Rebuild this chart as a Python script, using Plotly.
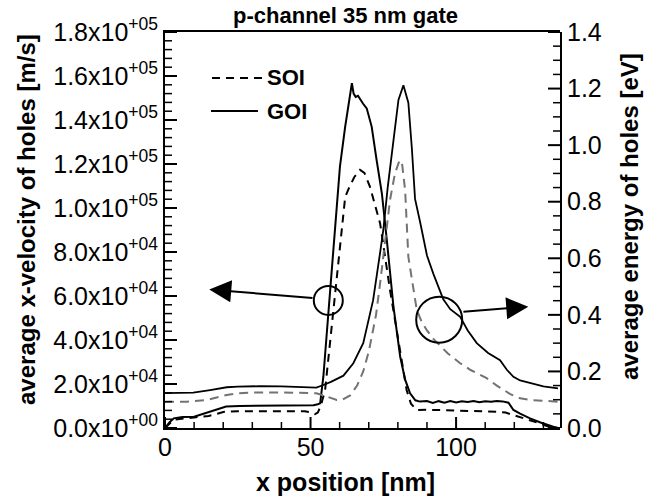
import plotly.graph_objects as go

# ---------------- data ----------------
# average x-velocity of holes [m/s], GOI (solid black)
vel_goi_x = [0, 1.5, 3, 6, 10, 15.5, 19, 21, 25.7, 35, 45, 51, 52.5, 53.3, 54.4, 56.4, 57.8,
             59, 60.1, 61.9, 63, 64.2, 64.8, 65.5, 66.3, 67, 68, 69.3, 71, 72.7, 74.5, 76.2,
             78.5, 80.8, 82.5, 84.2, 86, 87.6, 90, 92, 94, 96, 98, 100, 102, 104, 106, 108,
             110, 112, 114, 116, 118, 119.7, 122, 125.4, 129, 133.4, 135]
vel_goi = [0, 2500, 4400, 5000, 5100, 7400, 9000, 9800, 10000, 10200, 10300, 10300, 10800,
           11200, 23300, 58000, 81000, 103600, 118800, 137000, 146000, 156700, 152000, 150500,
           151000, 149500, 147500, 145300, 137000, 121800, 106700, 85500, 55000, 32400, 22000,
           15800, 12600, 12000, 12300, 11400, 12200, 11500, 12300, 11600, 12200, 11800, 12300,
           11700, 12200, 11900, 12300, 12100, 11500, 8200, 6500, 4400, 2500, 600, 0]

# average x-velocity of holes [m/s], SOI (dashed black)
vel_soi_x = [0, 1.5, 3, 10, 15, 18, 20, 25, 40, 48, 50, 51.5, 52.5, 53.5, 55, 57.3, 59.6, 61.9,
             63, 65, 67, 68.5, 70.4, 72, 73.9, 77.3, 80.2, 83, 84.5, 86.5, 90, 100, 110, 114,
             117, 119.7, 122, 125.4, 129, 131.9, 135]
vel_soi = [0, 2000, 3800, 4800, 5500, 6500, 7300, 7600, 7700, 7600, 7200, 6300, 7000, 10000,
           17300, 47600, 77900, 105000, 108500, 114000, 117300, 116000, 109700, 102000, 93000,
           62700, 40000, 17300, 11000, 8200, 8300, 8000, 7800, 7400, 7000, 5900, 5000, 3700,
           2000, 600, 0]

# average energy of holes [eV], GOI (solid black)
en_goi_x = [0, 5, 9.7, 15.5, 21.2, 25, 32.6, 40, 50, 52, 54.4, 57, 61.3, 64.7, 68.1, 71.5,
            73.9, 75, 76.5, 78.5, 80.2, 81.9, 83.6, 84.8, 85.9, 87.6, 88.8, 90, 92.2, 95.6, 98,
            101.4, 104, 107.1, 111, 115.1, 117.5, 119.7, 122, 125.4, 130, 135]
en_goi = [0.123, 0.124, 0.125, 0.134, 0.144, 0.146, 0.148, 0.147, 0.144, 0.143, 0.152, 0.163,
          0.185, 0.229, 0.30, 0.452, 0.62, 0.70, 0.85, 1.03, 1.16, 1.212, 1.15, 0.99, 0.81,
          0.73, 0.665, 0.61, 0.545, 0.455, 0.42, 0.393, 0.345, 0.30, 0.265, 0.24, 0.205, 0.181,
          0.168, 0.158, 0.147, 0.14]

# average energy of holes [eV], SOI (dashed grey)
en_soi_x = [0, 7.5, 14.3, 21.2, 25, 30, 40, 50, 52, 55.6, 59, 61, 63.6, 66, 68.1, 70, 72.5,
            74, 75.6, 77.3, 79, 80.6, 81.5, 82.5, 83.6, 85.3, 86.5, 88.2, 90, 92.2, 94.5, 97,
            101.4, 105, 110.5, 114, 118.6, 122, 125.4, 130, 135]
en_soi = [0.092, 0.093, 0.099, 0.117, 0.123, 0.125, 0.126, 0.125, 0.123, 0.111, 0.099, 0.10,
          0.115, 0.15, 0.20, 0.27, 0.40, 0.52, 0.665, 0.806, 0.90, 0.947, 0.93, 0.84, 0.605,
          0.488, 0.417, 0.375, 0.345, 0.315, 0.29, 0.265, 0.229, 0.205, 0.176, 0.15, 0.12,
          0.105, 0.099, 0.095, 0.093]

vel_ticks = [0, 20000, 40000, 60000, 80000, 100000, 120000, 140000, 160000, 180000]
vel_tick_text = ["0.0x10<sup>+00</sup>", "2.0x10<sup>+04</sup>", "4.0x10<sup>+04</sup>",
                 "6.0x10<sup>+04</sup>", "8.0x10<sup>+04</sup>", "1.0x10<sup>+05</sup>",
                 "1.2x10<sup>+05</sup>", "1.4x10<sup>+05</sup>", "1.6x10<sup>+05</sup>",
                 "1.8x10<sup>+05</sup>"]
en_ticks = [0, 0.2, 0.4, 0.6, 0.8, 1.0, 1.2, 1.4]
en_tick_text = ["0.0", "0.2", "0.4", "0.6", "0.8", "1.0", "1.2", "1.4"]
x_ticks = [0, 50, 100]

legend_names = ["SOI", "GOI"]

FONT = "Arial, 'Liberation Sans', sans-serif"
PL, PR, PT, PB = 165, 90, 32, 70
W, H = 650, 498
PW, PH = W - PL - PR, H - PT - PB
CLEAR = "rgba(0,0,0,0)"
X_RANGE = [0, 135.7]


def px_x(p):  # pixel -> paper x
    return (p - PL) / PW


def px_y(p):  # pixel -> paper y
    return (H - PB - p) / PH


fig = go.Figure()
fig.add_trace(go.Scatter(x=vel_soi_x, y=vel_soi, mode="lines", name=legend_names[0],
                         line=dict(color="black", width=2, dash="8px,6px"), showlegend=False))
fig.add_trace(go.Scatter(x=vel_goi_x, y=vel_goi, mode="lines", name=legend_names[1],
                         line=dict(color="black", width=2), showlegend=False))
fig.add_trace(go.Scatter(x=en_soi_x, y=en_soi, mode="lines", xaxis="x2", yaxis="y2",
                         showlegend=False,
                         line=dict(color="#737373", width=2, dash="9px,6px")))
fig.add_trace(go.Scatter(x=en_goi_x, y=en_goi, mode="lines", xaxis="x2", yaxis="y2",
                         showlegend=False, line=dict(color="black", width=1.8)))

# ---- inward tick marks, positioned through the axes ----
tick_line = dict(color="black", width=2)
minor_line = dict(color="black", width=1.5)
for k in range(0, 14):
    xv = 10 * k
    major = xv in x_ticks
    fig.add_shape(type="line", xref="x", yref="y domain", x0=xv, x1=xv, y0=0,
                  y1=(11 if major else 6) / PH, line=tick_line if major else minor_line)
for k in range(0, 46):
    yv = 4000 * k
    major = yv in vel_ticks
    fig.add_shape(type="line", xref="x domain", yref="y", x0=0,
                  x1=(12 if major else 7) / PW, y0=yv, y1=yv,
                  line=tick_line if major else minor_line)
for k in range(0, 29):
    ev = round(0.05 * k, 2)
    major = any(abs(ev - t) < 1e-9 for t in en_ticks)
    fig.add_shape(type="line", xref="x2 domain", yref="y2", x0=1 - (12 if major else 7) / PW,
                  x1=1, y0=ev, y1=ev, line=tick_line if major else minor_line)

# legend (drawn by hand to match the original layout)
fig.add_shape(type="line", xref="paper", yref="paper", x0=px_x(212), x1=px_x(263),
              y0=px_y(78), y1=px_y(78), line=dict(color="black", width=2, dash="8px,6px"))
fig.add_shape(type="line", xref="paper", yref="paper", x0=px_x(211), x1=px_x(258),
              y0=px_y(111), y1=px_y(111), line=dict(color="black", width=2))
fig.add_annotation(x=px_x(265), y=px_y(77), xref="paper", yref="paper", showarrow=False,
                   text="<b>" + legend_names[0] + "</b>", xanchor="left", yanchor="middle",
                   font=dict(size=22, family=FONT))
fig.add_annotation(x=px_x(265), y=px_y(112), xref="paper", yref="paper", showarrow=False,
                   text="<b>" + legend_names[1] + "</b>", xanchor="left", yanchor="middle",
                   font=dict(size=22, family=FONT))

# circles marking which curves belong to which axis
fig.add_shape(type="circle", xref="x", yref="y", xsizemode="pixel", ysizemode="pixel",
              xanchor=56.1, yanchor=58000, x0=-14.5, x1=14.5, y0=-14.5, y1=14.5,
              line=dict(color="black", width=2))
fig.add_shape(type="circle", xref="x2", yref="y2", xsizemode="pixel", ysizemode="pixel",
              xanchor=94.2, yanchor=0.383, x0=-23, x1=23, y0=-23, y1=23,
              line=dict(color="black", width=2))
# arrows
fig.add_annotation(x=15.2, y=63000, ax=51.2, ay=59000, xref="x", yref="y", axref="x", ayref="y",
                   showarrow=True, arrowhead=2, arrowsize=2.2, arrowwidth=2, arrowcolor="black",
                   text="", standoff=0, startstandoff=0)
fig.add_annotation(x=124.8, y=0.429, ax=102.0, ay=0.411, xref="x2", yref="y2", axref="x2",
                   ayref="y2", showarrow=True, arrowhead=2, arrowsize=2.2, arrowwidth=2,
                   arrowcolor="black", text="", standoff=0, startstandoff=0)

# axis titles as annotations for exact placement
fig.add_annotation(x=px_x(27), y=px_y(220), xref="paper", yref="paper", showarrow=False,
                   text="<b>average x-velocity of holes [m/s]</b>", textangle=-90,
                   font=dict(size=24, family=FONT), xanchor="center", yanchor="middle")
fig.add_annotation(x=px_x(630), y=px_y(217), xref="paper", yref="paper", showarrow=False,
                   text="<b>average energy of holes [eV]</b>", textangle=-90,
                   font=dict(size=24, family=FONT), xanchor="center", yanchor="middle")
fig.add_annotation(x=px_x(345), y=px_y(482), xref="paper", yref="paper", showarrow=False,
                   text="<b>x position [nm]</b>",
                   font=dict(size=25, family=FONT), xanchor="center", yanchor="middle")

fig.update_layout(
    width=W, height=H,
    margin=dict(l=PL, r=PR, t=PT, b=PB),
    plot_bgcolor=CLEAR, paper_bgcolor="white",
    font=dict(family=FONT, color="black", size=25),
    title=dict(text="<b>p-channel 35 nm gate</b>", font=dict(size=22, family=FONT),
               x=px_x(345.5), xref="paper", xanchor="center", y=1 - 15 / H, yanchor="middle"),
    showlegend=False,
    xaxis=dict(range=X_RANGE, gridcolor=CLEAR, zerolinecolor=CLEAR, showline=True,
               linecolor="black", linewidth=2, mirror=True, ticks="",
               tickvals=x_ticks, tickfont=dict(size=25), ticklabelstandoff=-4),
    yaxis=dict(range=[0, 180000], gridcolor=CLEAR, zerolinecolor=CLEAR, showline=True,
               linecolor="black", linewidth=2, ticks="",
               tickvals=vel_ticks, ticktext=vel_tick_text, tickfont=dict(size=25)),
    xaxis2=dict(range=X_RANGE, anchor="y2", visible=False, domain=[0, 1]),
    yaxis2=dict(range=[0, 1.4], anchor="x2", side="right", domain=[0, 1],
                gridcolor=CLEAR, zerolinecolor=CLEAR,
                showline=True, linecolor="black", linewidth=2, ticks="",
                tickvals=en_ticks, ticktext=en_tick_text, tickfont=dict(size=25)),
)

fig.write_html("out.html")
